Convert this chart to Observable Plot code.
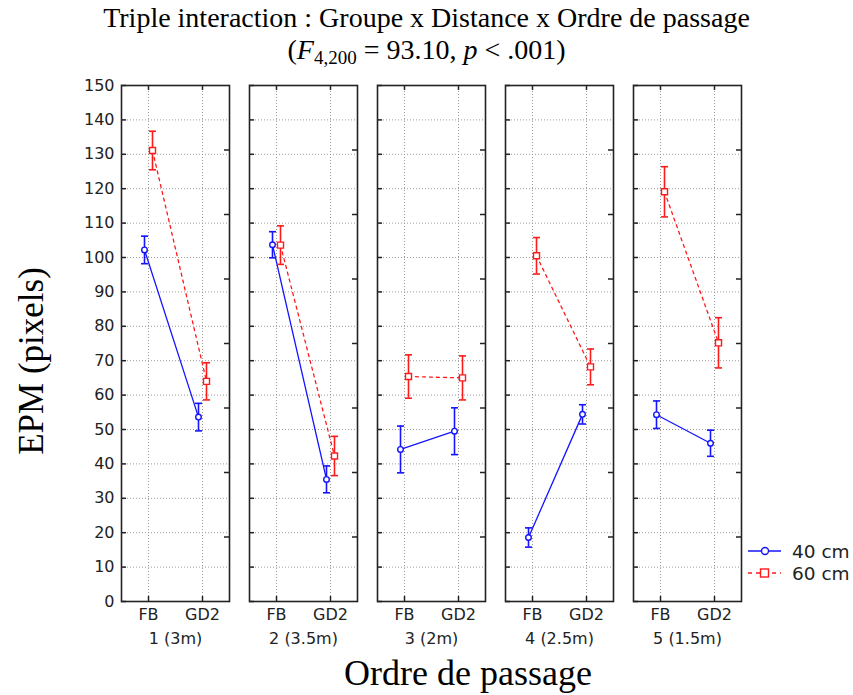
<!DOCTYPE html>
<html>
<head>
<meta charset="utf-8">
<script src="https://cdn.jsdelivr.net/npm/d3@7"></script>
<script src="https://cdn.jsdelivr.net/npm/@observablehq/plot@0.6"></script>
<style>
  html, body { margin: 0; padding: 0; background: #fff; }
  #wrap { position: relative; width: 853px; height: 695px; overflow: hidden; }
  #chart { position: absolute; left: 0; top: 0; }
  .serif { font-family: "Liberation Serif", "Times New Roman", serif; color: #000; position: absolute; white-space: nowrap; }
  .tline { left: 0; width: 853px; text-align: center; font-size: 28px; line-height: 26px; height: 26px; }
  #t1 { top: 5px; }
  #t2 { top: 36.5px; }
  #t2 sub { font-size: 19px; line-height: 0; vertical-align: -5px; }
  #ytitle { font-size: 35px; left: 32px; top: 361px; transform: translate(-50%, -50%) rotate(-90deg); }
  #xtitle { font-size: 36px; left: 468px; top: 673px; transform: translate(-50%, -50%); }
  #legend { position: absolute; left: 745px; top: 535px; }
</style>
</head>
<body>
<div id="wrap">
  <div id="chart"></div>
  <div id="t1" class="serif tline">Triple interaction : Groupe x Distance x Ordre de passage</div>
  <div id="t2" class="serif tline">(<i>F</i><sub>4,200</sub> = 93.10, <i>p</i> &lt; .001)</div>
  <div id="ytitle" class="serif">EPM (pixels)</div>
  <div id="xtitle" class="serif">Ordre de passage</div>
  <div id="legend"></div>
</div>
<script>
// ---- data ----
const panels = ["1 (3m)", "2 (3.5m)", "3 (2m)", "4 (2.5m)", "5 (1.5m)"];
const orders = ["FB", "GD2"];
const seriesNames = ["40 cm", "60 cm"];
const mean40 = [[102.2, 53.6], [103.7, 35.5], [44.2, 49.5], [18.6, 54.4], [54.3, 46.0]];
const err40  = [[4.0, 4.0], [3.8, 3.9], [6.8, 6.8], [2.8, 2.8], [4.0, 3.8]];
const mean60 = [[131.1, 64.0], [103.6, 42.3], [65.4, 65.0], [100.5, 68.2], [119.1, 75.2]];
const err60  = [[5.6, 5.4], [5.6, 5.7], [6.3, 6.4], [5.3, 5.2], [7.3, 7.3]];
const yTicks = d3.range(0, 151, 10);
const rightTicks = d3.range(1, 8).map(i => i * 150 / 8);

// ---- layout / style ----
const W = 853, H = 695;
const mL = 120, mR = 111, mT = 85, mB = 94;
const band = 108;
const gap = ((W - mL - mR) - 5 * band) / 4;
const frameH = H - mT - mB;
const tickLen = 5;
const blue = "#1414ff", red = "#ff1a1a";
const labelFont = "'DejaVu Sans', sans-serif";
const ink = "#222";

function rows(means, errs, series) {
  const out = [];
  panels.forEach((p, i) => orders.forEach((o, j) => {
    out.push({panel: p, o: j, series, mean: means[i][j], lo: means[i][j] - errs[i][j], hi: means[i][j] + errs[i][j]});
  }));
  return out;
}
const d40 = rows(mean40, err40, seriesNames[0]);
const d60 = rows(mean60, err60, seriesNames[1]);
const yLabelRows = yTicks.map(v => ({v, panel: panels[0]}));

const cap = { draw(ctx, size) { const r = Math.sqrt(size / Math.PI); ctx.moveTo(-r, 0); ctx.lineTo(r, 0); } };

function seriesMarks(data, color, dx, symbol, r, dash) {
  return [
    Plot.line(data, {fx: "panel", x: "o", y: "mean", stroke: color, strokeWidth: 1.3, dx, strokeDasharray: dash}),
    Plot.ruleX(data, {fx: "panel", x: "o", y1: "lo", y2: "hi", stroke: color, strokeWidth: 1.6, dx}),
    Plot.dot(data, {fx: "panel", x: "o", y: "hi", symbol: cap, r: 3.5, stroke: color, strokeWidth: 1.6, dx}),
    Plot.dot(data, {fx: "panel", x: "o", y: "lo", symbol: cap, r: 3.5, stroke: color, strokeWidth: 1.6, dx}),
    Plot.dot(data, {fx: "panel", x: "o", y: "mean", symbol, r, stroke: color, fill: "white", strokeWidth: 1.4, dx})
  ];
}

const chart = Plot.plot({
  width: W, height: H,
  marginLeft: mL, marginRight: mR, marginTop: mT, marginBottom: mB,
  style: {fontFamily: labelFont, fontSize: "16px", color: ink, background: "transparent", overflow: "visible"},
  fx: {domain: panels, paddingInner: gap / (band + gap), paddingOuter: 0, axis: null},
  x: {domain: [-0.5, 1.5], axis: null},
  y: {domain: [0, 150], axis: null},
  marks: [
    Plot.ruleY(yTicks.slice(1, -1), {y: d => d, stroke: "#9a9a9a", strokeDasharray: "1,2", strokeWidth: 1}),
    Plot.ruleX([0, 1], {x: d => d, stroke: "#9a9a9a", strokeDasharray: "1,2", strokeWidth: 1}),
    Plot.tickY(yTicks, {y: d => d, insetRight: band - tickLen, stroke: ink, strokeWidth: 1.5}),
    Plot.tickY(rightTicks, {y: d => d, insetLeft: band - tickLen, stroke: ink, strokeWidth: 1.5}),
    Plot.tickX([0, 1], {x: d => d, insetBottom: frameH - tickLen, stroke: ink, strokeWidth: 1.5}),
    Plot.tickX([0, 1], {x: d => d, insetTop: frameH - tickLen, stroke: ink, strokeWidth: 1.5}),
    Plot.frame({stroke: ink, strokeWidth: 1.6}),
    // axis labels
    Plot.text(yLabelRows, {fx: "panel", y: "v", text: d => String(d.v), frameAnchor: "left", textAnchor: "end", dx: -7, fontSize: 16, fontFamily: labelFont, fill: ink}),
    Plot.text([0, 1], {x: d => d, text: d => orders[d], frameAnchor: "bottom", dy: 18, fontSize: 16, fontFamily: labelFont, fill: ink}),
    Plot.text(panels, {fx: d => d, text: d => d, frameAnchor: "bottom", dy: 42, fontSize: 16, fontFamily: labelFont, fill: ink}),
    ...seriesMarks(d40, blue, -4, "circle", 2.8, null),
    ...seriesMarks(d60, red, 4, "square", 3.4, "3,4")
  ]
});
document.getElementById("chart").appendChild(chart);

// ---- legend ----
const lg = d3.select("#legend").append("svg").attr("width", 108).attr("height", 55);
const items = [{name: seriesNames[0], color: blue, dash: null, sq: false}, {name: seriesNames[1], color: red, dash: "4,4", sq: true}];
items.forEach((it, i) => {
  const y = 16 + i * 22;
  lg.append("line").attr("x1", 3).attr("x2", 36).attr("y1", y).attr("y2", y)
    .attr("stroke", it.color).attr("stroke-width", 1.4).attr("stroke-dasharray", it.dash);
  if (it.sq) lg.append("rect").attr("x", 15.5).attr("y", y - 4).attr("width", 8).attr("height", 8).attr("fill", "white").attr("stroke", it.color).attr("stroke-width", 1.4);
  else lg.append("circle").attr("cx", 20).attr("cy", y).attr("r", 3.5).attr("fill", "white").attr("stroke", it.color).attr("stroke-width", 1.4);
  lg.append("text").attr("x", 47).attr("y", y + 6.5).text(it.name)
    .attr("font-family", labelFont).attr("font-size", 18.5).attr("fill", ink);
});
</script>
</body>
</html>
